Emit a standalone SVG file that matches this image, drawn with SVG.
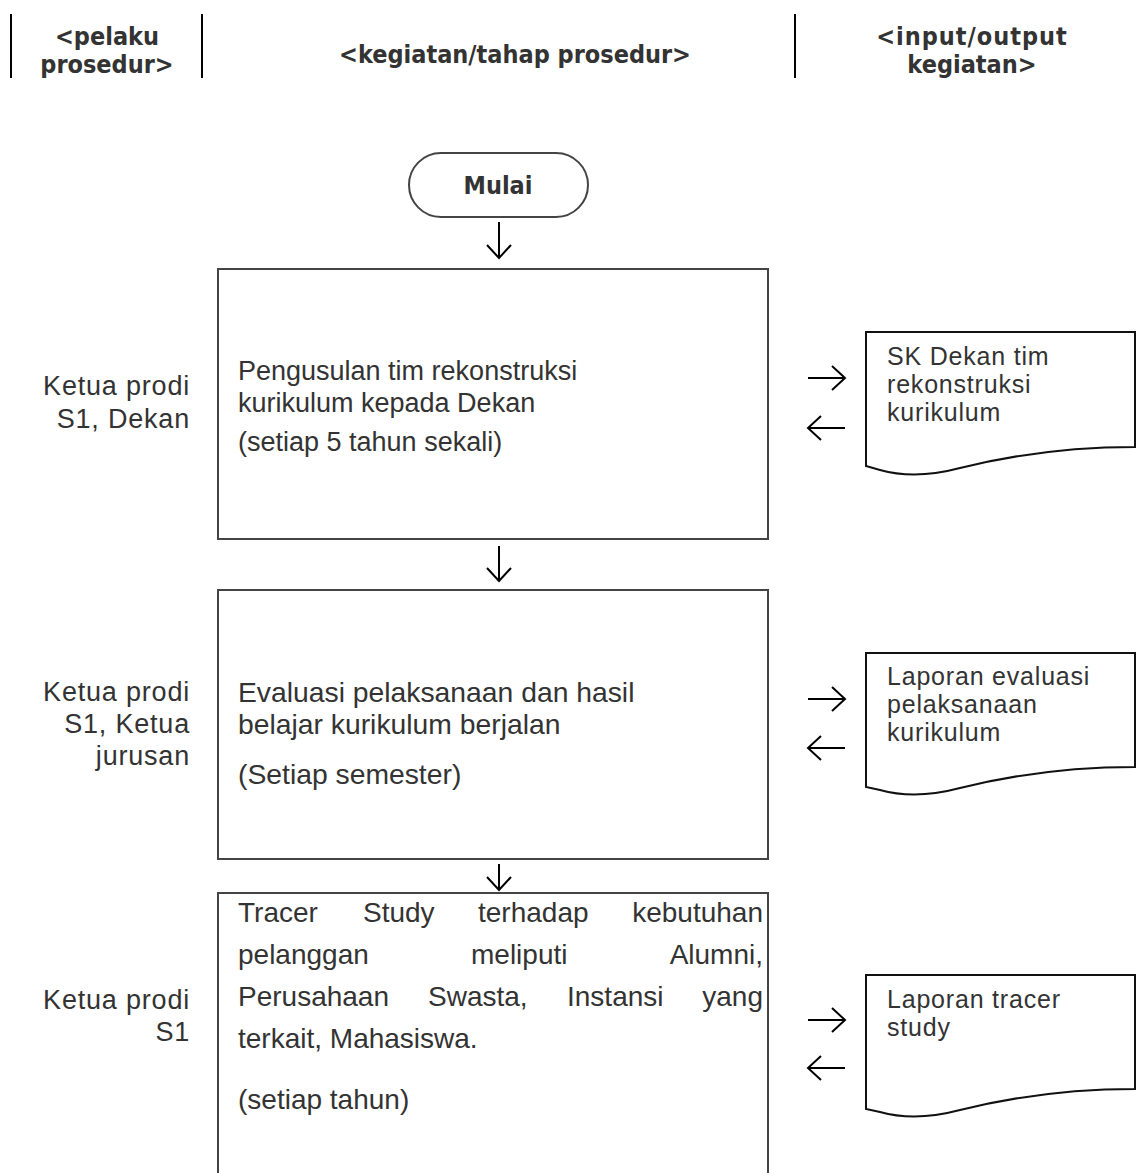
<svg xmlns="http://www.w3.org/2000/svg" width="1137" height="1173" viewBox="0 0 1137 1173">
<style>
.hdr{font-family:"DejaVu Sans Condensed","DejaVu Sans",sans-serif;font-weight:bold;font-stretch:condensed;font-size:25px;fill:#333;text-anchor:middle}
.body{font-family:"Liberation Sans",Arial,sans-serif;fill:#333}
.lbl{font-size:27px;letter-spacing:0.8px;text-anchor:end}
.box{fill:#fff;stroke:#444;stroke-width:2}
.doc{fill:#fff;stroke:#111;stroke-width:2}
.cn{stroke:#000;stroke-width:2;fill:none}
.dt{font-size:25px;letter-spacing:0.8px}
.b3{font-size:28px}
</style>
<defs>
<marker id="ah" viewBox="-16 -16 20 32" refX="0" refY="0" markerWidth="20" markerHeight="32" markerUnits="userSpaceOnUse" orient="auto">
<path d="M-13,-12 L0,0 L-13,12" fill="none" stroke="#000" stroke-width="2"/>
</marker>
</defs>
<rect width="1137" height="1173" fill="#fff"/>

<g id="header">
<line x1="11" y1="14" x2="11" y2="78" stroke="#000" stroke-width="2"/>
<line x1="202" y1="14" x2="202" y2="78" stroke="#000" stroke-width="2"/>
<line x1="795" y1="14" x2="795" y2="78" stroke="#000" stroke-width="2"/>
<text class="hdr" x="107" y="45">&lt;pelaku</text>
<text class="hdr" x="107" y="73">prosedur&gt;</text>
<text class="hdr" x="515" y="63" font-size="26">&lt;kegiatan/tahap prosedur&gt;</text>
<text class="hdr" x="972" y="45" letter-spacing="1">&lt;input/output</text>
<text class="hdr" x="972" y="73">kegiatan&gt;</text>
</g>

<g id="start">
<rect x="409" y="153" width="179" height="64" rx="32" ry="32" class="box"/>
<text class="hdr" x="498" y="194" font-size="26">Mulai</text>
</g>

<g id="step1">
<rect x="218" y="269" width="550" height="270" class="box"/>
<text class="body" font-size="27" x="238" y="380">Pengusulan tim rekonstruksi</text>
<text class="body" font-size="27" x="238" y="412">kurikulum kepada Dekan</text>
<text class="body" font-size="27" x="238" y="451">(setiap 5 tahun sekali)</text>
</g>
<g id="actor1">
<text class="body lbl" x="190" y="395">Ketua prodi</text>
<text class="body lbl" x="190" y="428">S1, Dekan</text>
</g>
<g id="doc1">
<path class="doc" d="M866,332 H1135 V447 C1060,447 1000,458 960,468 C930,476 905,477 880,470 L866,466 Z"/>
<text class="body dt" x="887" y="365">SK Dekan tim</text>
<text class="body dt" x="887" y="393">rekonstruksi</text>
<text class="body dt" x="887" y="421">kurikulum</text>
</g>

<g id="step2">
<rect x="218" y="590" width="550" height="269" class="box"/>
<text class="body" font-size="28.3" x="238" y="702">Evaluasi pelaksanaan dan hasil</text>
<text class="body" font-size="28.3" x="238" y="734">belajar kurikulum berjalan</text>
<text class="body" font-size="28.3" x="238" y="784">(Setiap semester)</text>
</g>
<g id="actor2">
<text class="body lbl" x="190" y="701">Ketua prodi</text>
<text class="body lbl" x="190" y="733">S1, Ketua</text>
<text class="body lbl" x="190" y="765">jurusan</text>
</g>
<g id="doc2">
<path class="doc" d="M866,653 H1135 V767 C1060,767 1000,778 960,788 C930,796 905,797 880,790 L866,787 Z"/>
<text class="body dt" x="887" y="685">Laporan evaluasi</text>
<text class="body dt" x="887" y="713">pelaksanaan</text>
<text class="body dt" x="887" y="741">kurikulum</text>
</g>

<g id="step3">
<rect x="218" y="893" width="550" height="300" class="box"/>
<g class="body b3">
<text x="238" y="922">Tracer</text>
<text x="363" y="922">Study</text>
<text x="478" y="922">terhadap</text>
<text x="763" y="922" text-anchor="end">kebutuhan</text>
<text x="238" y="964">pelanggan</text>
<text x="471" y="964">meliputi</text>
<text x="763" y="964" text-anchor="end">Alumni,</text>
<text x="238" y="1006">Perusahaan</text>
<text x="428" y="1006">Swasta,</text>
<text x="567" y="1006">Instansi</text>
<text x="763" y="1006" text-anchor="end">yang</text>
<text x="238" y="1048">terkait, Mahasiswa.</text>
<text x="238" y="1109">(setiap tahun)</text>
</g>
</g>
<g id="actor3">
<text class="body lbl" x="190" y="1009">Ketua prodi</text>
<text class="body lbl" x="190" y="1041">S1</text>
</g>
<g id="doc3">
<path class="doc" d="M866,975 H1135 V1089 C1060,1089 1000,1100 960,1110 C930,1118 905,1119 880,1112 L866,1109 Z"/>
<text class="body dt" x="887" y="1008">Laporan tracer</text>
<text class="body dt" x="887" y="1036">study</text>
</g>

<g id="connectors">
<line class="cn" x1="499" y1="222" x2="499" y2="258" marker-end="url(#ah)"/>
<line class="cn" x1="499" y1="546" x2="499" y2="581" marker-end="url(#ah)"/>
<line class="cn" x1="499" y1="864" x2="499" y2="890" marker-end="url(#ah)"/>
<line class="cn" x1="808" y1="378" x2="845" y2="378" marker-end="url(#ah)"/>
<line class="cn" x1="845" y1="428" x2="808" y2="428" marker-end="url(#ah)"/>
<line class="cn" x1="808" y1="699" x2="845" y2="699" marker-end="url(#ah)"/>
<line class="cn" x1="845" y1="748" x2="808" y2="748" marker-end="url(#ah)"/>
<line class="cn" x1="808" y1="1020" x2="845" y2="1020" marker-end="url(#ah)"/>
<line class="cn" x1="845" y1="1068" x2="808" y2="1068" marker-end="url(#ah)"/>
</g>
</svg>
